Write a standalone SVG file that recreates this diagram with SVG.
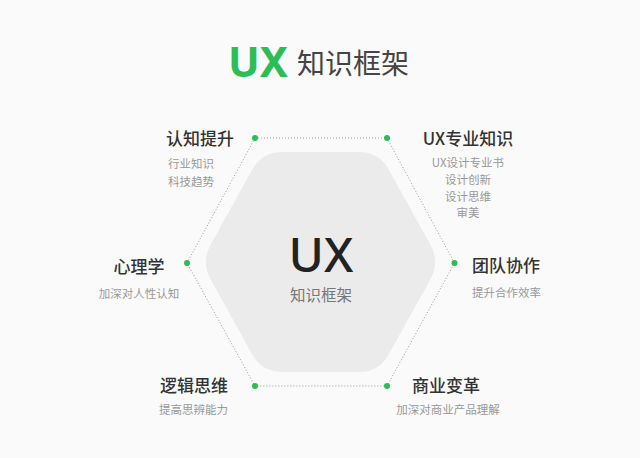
<svg xmlns="http://www.w3.org/2000/svg" width="640" height="458" viewBox="0 0 640 458">
<style>
text{font-family:"Noto Sans CJK SC","Noto Sans",sans-serif;}
.lbl{font-size:17px;fill:#333;font-weight:500;}
.sub{font-size:11.5px;fill:#999;}
.edge{fill:none;stroke:#999;stroke-width:1;stroke-dasharray:1 2;}
.dot{fill:#2dbd55;}
</style>
<rect width="640" height="458" fill="#fafafa"/>
<g id="title">
<text x="228" y="77" font-size="42" font-weight="700" fill="#2dbd55" style="font-family:'Noto Sans','Open Sans',sans-serif">UX</text>
<text x="297" y="74" font-size="28" fill="#444">知识框架</text>
</g>
<g id="connectors">
<path class="edge" d="M255 138 L387 138 L454.5 263 L387 386 L255 386 L187 263 Z"/>
</g>
<g id="center">
<path fill="#ebebeb" d="M282 152 L359 152 Q379 152 388.7 169.5 L430.3 244.5 Q440 262 430.3 279.5 L388.7 354.5 Q379 372 359 372 L282 372 Q262 372 252.3 354.5 L210.7 279.5 Q201 262 210.7 244.5 L252.3 169.5 Q262 152 282 152 Z"/>
<text x="321" y="272" font-size="48" font-weight="500" fill="#222" text-anchor="middle" style="font-family:'Noto Sans','Noto Sans CJK SC',sans-serif">UX</text>
<text x="321" y="301" font-size="15.5" fill="#777" text-anchor="middle">知识框架</text>
</g>
<g id="node-cognition">
<circle class="dot" cx="255" cy="138" r="3"/>
<text class="lbl" x="166" y="144.5">认知提升</text>
<text class="sub" x="168" y="167.5">行业知识</text>
<text class="sub" x="168" y="185.5">科技趋势</text>
</g>
<g id="node-ux">
<circle class="dot" cx="387" cy="138" r="3"/>
<text class="lbl" x="468" y="144.5" text-anchor="middle">UX专业知识</text>
<text class="sub" x="468" y="166.5" text-anchor="middle">UX设计专业书</text>
<text class="sub" x="468" y="183.5" text-anchor="middle">设计创新</text>
<text class="sub" x="468" y="200.5" text-anchor="middle">设计思维</text>
<text class="sub" x="468" y="216.5" text-anchor="middle">审美</text>
</g>
<g id="node-team">
<circle class="dot" cx="454.5" cy="263" r="3"/>
<text class="lbl" x="472" y="272">团队协作</text>
<text class="sub" x="472" y="297">提升合作效率</text>
</g>
<g id="node-business">
<circle class="dot" cx="387" cy="386" r="3"/>
<text class="lbl" x="446" y="391.5" text-anchor="middle">商业变革</text>
<text class="sub" x="448" y="413.5" text-anchor="middle">加深对商业产品理解</text>
</g>
<g id="node-logic">
<circle class="dot" cx="255" cy="386" r="3"/>
<text class="lbl" x="160" y="391.5">逻辑思维</text>
<text class="sub" x="159" y="413.5">提高思辨能力</text>
</g>
<g id="node-psych">
<circle class="dot" cx="187" cy="263" r="3"/>
<text class="lbl" x="139" y="272.5" text-anchor="middle">心理学</text>
<text class="sub" x="139" y="297.5" text-anchor="middle">加深对人性认知</text>
</g>
</svg>
